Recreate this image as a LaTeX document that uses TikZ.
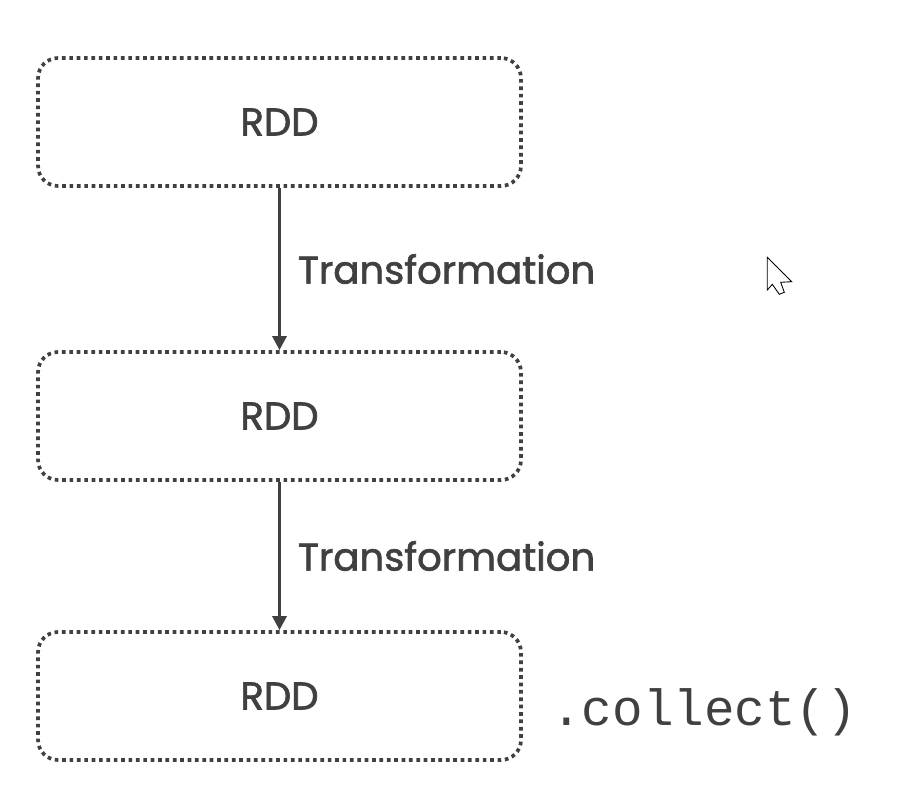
\documentclass[tikz,border=0pt]{standalone}
\usepackage{fontspec}
\setmainfont{Poppins}[FakeBold=1.6,UprightFeatures={FakeBold=1.6}]
\setmonofont{Liberation Mono}
\usetikzlibrary{arrows.meta,positioning}
\definecolor{ink}{HTML}{404040}
\tikzset{rddbox/.style={draw=ink, line width=2.1pt, dash pattern=on 2.1pt off 2.1pt, rounded corners=0.4cm, minimum width=9.66cm, minimum height=2.56cm, text=ink, font=\fontsize{22}{26}\selectfont},
 flow/.style={draw=ink, line width=1.7pt, -{Triangle[length=8pt,width=8pt]}},
 steplabel/.style={text=ink, anchor=west, inner sep=0pt, font=\fontsize{22}{26}\selectfont}}

\begin{document}
\begin{tikzpicture}[x=0.02cm,y=-0.02cm]
  \useasboundingbox (0,0) rectangle (913,791);
  \node[rddbox] (rdd1) at (279.5,122) {RDD};
  \node[rddbox] (rdd2) at (279.5,416) {RDD};
  \node[rddbox] (rdd3) at (279.5,696) {RDD};
  \draw[flow] (rdd1) -- (rdd2) node[pos=0.5, right=0.34cm, steplabel] (t1) {Transformation};
  \draw[flow] (rdd2) -- (rdd3) node[pos=0.5, right=0.34cm, steplabel] (t2) {Transformation};
  \node[text=ink, anchor=west, inner sep=0pt, font=\ttfamily\fontsize{29}{32}\selectfont] (act) at (551,712) {.collect()};
  % mouse pointer
  \draw[black, line width=0.5pt, fill=white, line join=miter] (767.3,257.3) -- (767.3,290) -- (772.3,284.3) -- (779.3,294.3) -- (784.3,292.3) -- (780.7,282.3) -- (791.7,281.7) -- cycle;
\end{tikzpicture}
\end{document}
